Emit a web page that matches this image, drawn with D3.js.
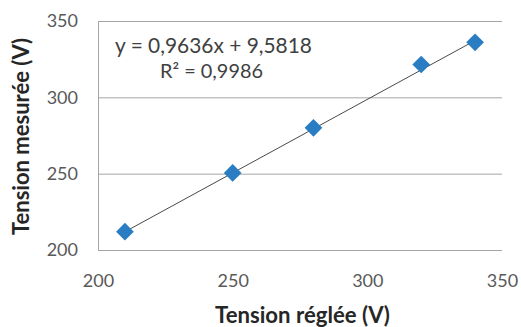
<!DOCTYPE html>
<html><head><meta charset="utf-8">
<script src="https://cdn.jsdelivr.net/npm/d3@7"></script>
<style>body{margin:0;background:#fff}svg{display:block}</style>
</head><body>
<script>
const xValues = [210, 250, 280, 320, 340];
const yValues = [212, 250.5, 280, 321.5, 336];
const xTicks = [200, 250, 300, 350];
const yTicks = [200, 250, 300, 350];
const slope = 0.9636, intercept = 9.5818;
const equationText = "y = 0,9636x + 9,5818";
const r2Text = "R² = 0,9986";
const xTitle = "Tension réglée (V)";
const yTitle = "Tension mesurée (V)";

const W = 521, H = 327;
const m = {left: 98, right: 19, top: 21, bottom: 77};
const svg = d3.select("body").append("svg").attr("width", W).attr("height", H);
const x = d3.scaleLinear().domain([200, 350]).range([m.left, W - m.right]);
const y = d3.scaleLinear().domain([200, 350]).range([H - m.bottom, m.top]);
const font = "Lato, 'Open Sans', sans-serif";

function fit(sel, width) {
  const base = +sel.attr("font-size");
  const w = sel.node().getComputedTextLength();
  if (w > 0) sel.attr("font-size", (base * width / w).toFixed(2));
  return sel;
}

// gridlines
svg.append("g").selectAll("line").data(yTicks).join("line")
  .attr("x1", x(200)).attr("x2", x(350))
  .attr("y1", d => y(d) + 0.5).attr("y2", d => y(d) + 0.5)
  .attr("stroke", "#a6a6a6").attr("stroke-width", 1);
// left axis
svg.append("line").attr("x1", x(200) + 0.5).attr("x2", x(200) + 0.5)
  .attr("y1", y(350)).attr("y2", y(200) + 1)
  .attr("stroke", "#a6a6a6").attr("stroke-width", 1);

// y tick labels
const yAxis = d3.axisLeft(y).tickValues(yTicks).tickSize(0).tickPadding(20);
svg.append("g").attr("transform", `translate(${x(200)},0)`).call(yAxis)
  .call(g => g.select(".domain").remove())
  .selectAll("text").attr("font-family", font).attr("font-size", 18).attr("fill", "#595959");
// x tick labels
const xAxis = d3.axisBottom(x).tickValues(xTicks).tickSize(0).tickPadding(24);
svg.append("g").attr("transform", `translate(0,${y(200)})`).call(xAxis)
  .call(g => g.select(".domain").remove())
  .selectAll("text").attr("font-family", font).attr("font-size", 18).attr("fill", "#595959");

// trendline
const xMin = d3.min(xValues), xMax = d3.max(xValues);
svg.append("line")
  .attr("x1", x(xMin)).attr("y1", y(slope * xMin + intercept))
  .attr("x2", x(xMax)).attr("y2", y(slope * xMax + intercept))
  .attr("stroke", "#4a4a4a").attr("stroke-width", 1);

// markers
const pts = xValues.map((v, i) => [v, yValues[i]]);
svg.append("g").selectAll("path").data(pts).join("path")
  .attr("d", d3.symbol().type(d3.symbolDiamond2 || d3.symbolDiamond).size(200))
  .attr("transform", d => `translate(${x(d[0])},${y(d[1])})`)
  .attr("fill", "#2A7DC2");

// equation
fit(svg.append("text").attr("x", 213.5).attr("y", 53).attr("text-anchor", "middle")
  .attr("font-family", font).attr("font-size", 18).attr("fill", "#404040").text(equationText), 197);
fit(svg.append("text").attr("x", 211.5).attr("y", 78).attr("text-anchor", "middle")
  .attr("font-family", font).attr("font-size", 18).attr("fill", "#404040").text(r2Text), 103);

// axis titles
fit(svg.append("text").attr("x", 302.5).attr("y", 323).attr("text-anchor", "middle")
  .attr("font-family", font).attr("font-weight", "bold").attr("font-size", 17).attr("fill", "#262626").text(xTitle), 175);
fit(svg.append("text").attr("transform", "translate(28.5,136.5) rotate(-90)").attr("text-anchor", "middle")
  .attr("font-family", font).attr("font-weight", "bold").attr("font-size", 17).attr("fill", "#262626").text(yTitle), 197);
</script>
</body></html>
